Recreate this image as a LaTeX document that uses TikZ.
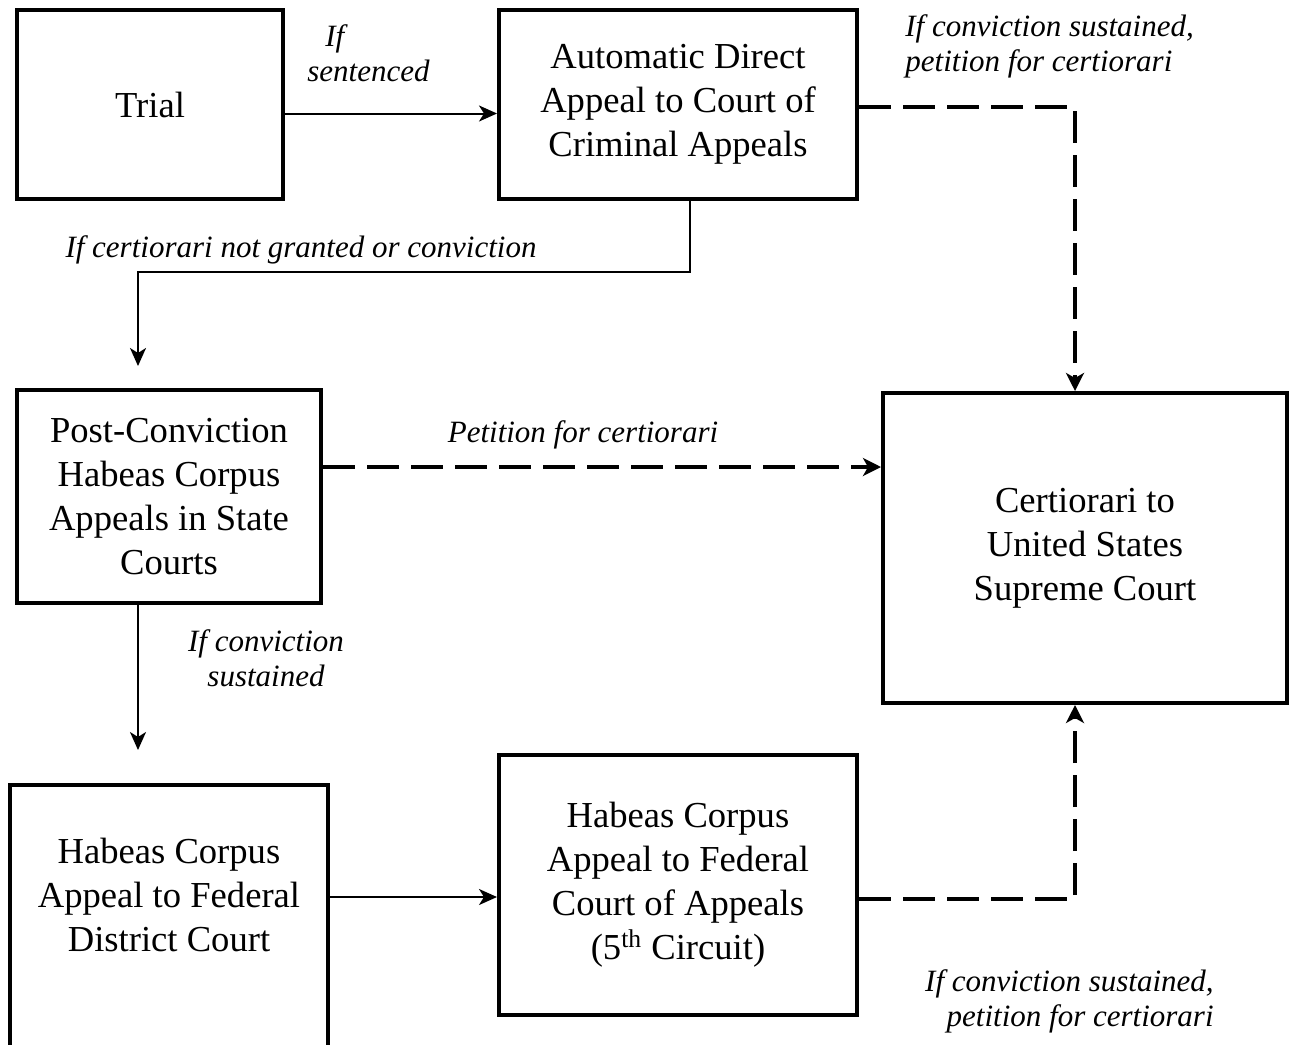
\documentclass[tikz,border=0pt]{standalone}
\usepackage{fontspec}
\setmainfont{Liberation Serif}
\usetikzlibrary{arrows.meta, positioning, calc}

\begin{document}
\begin{tikzpicture}[x=0.5pt, y=-0.5pt,
    box/.style={draw, line width=2pt, align=center, inner sep=0pt,
      font=\fontsize{18.3pt}{22pt}\selectfont},
    lbl/.style={align=center, inner sep=0pt, font=\fontsize{15.5pt}{17.5pt}\selectfont\itshape},
    thinarrow/.style={line width=1pt, -{Stealth[length=9pt, width=8pt, inset=2.5pt]}},
    dasharrow/.style={line width=2.2pt, dash pattern=on 16pt off 6pt,
      -{Stealth[length=9pt, width=9pt, inset=2.5pt]}}]
  \useasboundingbox (0,0) rectangle (1289,1044);

  % boxes
  \node[box, minimum width=133pt, minimum height=94.5pt] (trial) at (150,104.5) {Trial};
  \node[box, minimum width=179pt, minimum height=94.5pt] (direct) at (678,104.5)
    {Automatic Direct\\Appeal to Court of\\Criminal Appeals};
  \node[box, minimum width=152pt, minimum height=106.5pt] (postconv) at (169,496.5)
    {Post-Conviction\\Habeas Corpus\\Appeals in State\\Courts};
  \node[box, minimum width=202pt, minimum height=155pt] (cert) at (1085,548)
    {Certiorari to\\United States\\Supreme Court};
  \node[box, minimum width=159pt, text height=83pt, text depth=66pt, anchor=north] (district) at (169,783)
    {Habeas Corpus\\Appeal to Federal\\District Court};
  \node[box, minimum width=179pt, minimum height=130pt] (fedapp) at (678,885)
    {Habeas Corpus\\Appeal to Federal\\Court of Appeals\\(5\textsuperscript{th} Circuit)};

  % solid connectors
  \draw[thinarrow] ([yshift=-4.5pt]trial.east) -- ([yshift=-4.5pt]direct.west);
  \draw[thinarrow] ([xshift=6pt]direct.south) |- (138,272) -- ([xshift=-15.5pt, yshift=11pt]postconv.north);
  \draw[thinarrow] ([xshift=-15.5pt]postconv.south) -- ([xshift=-15.5pt, yshift=16.5pt]district.north);
  \coordinate (fain) at ([yshift=-6pt]fedapp.west);
  \draw[thinarrow] (district.east |- fain) -- (fain);

  % dashed connectors
  \draw[dasharrow] ([yshift=-1.25pt]direct.east) -| ([xshift=-5pt]cert.north);
  \draw[dasharrow] ([yshift=14.75pt]postconv.east) -- ([yshift=40.5pt]cert.west);
  \draw[dasharrow] ([yshift=-7pt]fedapp.east) -| ([xshift=-5pt]cert.south);

  % labels
  \node[lbl, align=left, anchor=west] (lsent) at (307,53) {\hspace*{9pt}If\\sentenced};
  \node[lbl] (lnotgr) at (301,250) {If certiorari not granted or conviction};
  \node[lbl, align=left, anchor=west] (ltop) at (905,46) {If conviction sustained,\\petition for certiorari};
  \node[lbl] (lpet) at (583,435) {Petition for certiorari};
  \node[lbl] (lsust) at (266,658) {If conviction\\sustained};
  \node[lbl, align=right, anchor=east] (lbot) at (1214,1001) {If conviction sustained,\\petition for certiorari};
\end{tikzpicture}
\end{document}
